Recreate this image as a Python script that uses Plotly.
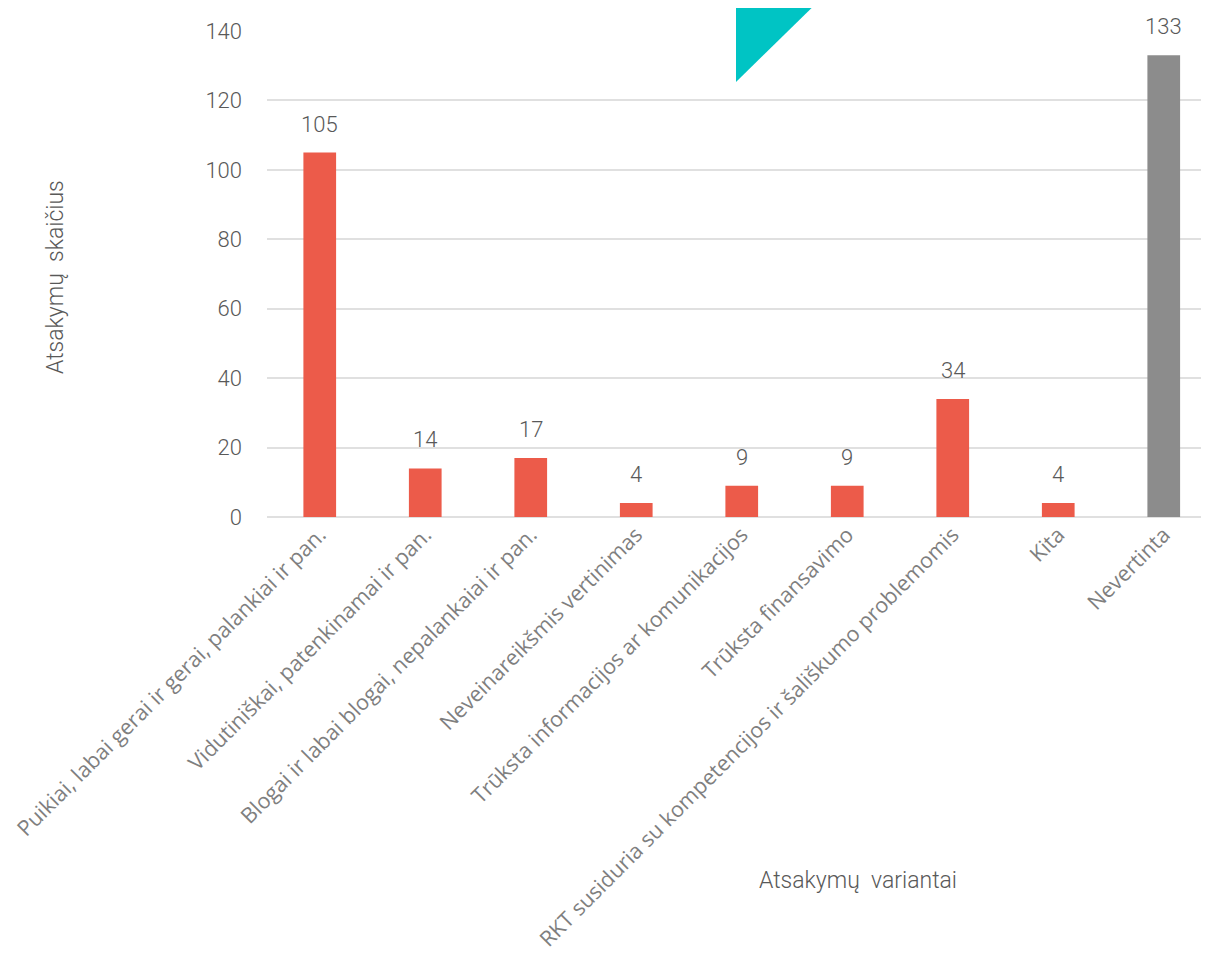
import plotly.graph_objects as go

categories = [
    "Puikiai, labai gerai ir gerai, palankiai ir pan.",
    "Vidutiniškai, patenkinamai ir pan.",
    "Blogai ir labai blogai, nepalankaiai ir pan.",
    "Neveinareikšmis vertinimas",
    "Trūksta informacijos ar komunikacijos",
    "Trūksta finansavimo",
    "RKT susiduria su kompetencijos ir šališkumo problemomis",
    "Kita",
    "Nevertinta",
]
values = [105, 14, 17, 4, 9, 9, 34, 4, 133]
bar_colors = ["#EC5B4A"] * 8 + ["#8C8C8C"]
y_ticks = [0, 20, 40, 60, 80, 100, 120, 140]

OFF = 8  # page body margin
W, H = 1193, 943
L, R, T = 259, 0, 23
ph = 486
B = H - T - ph
pw = W - L - R

def px_x(x):
    return (x - OFF - L) / pw

def px_y(y):
    return (T + ph - (y - OFF)) / ph

num_font = dict(family="Roboto", size=22, color="#595959", weight=300)
title_font = dict(family="Roboto", size=23, color="#595959", weight=300)

fig = go.Figure()
fig.add_trace(go.Bar(
    x=list(range(len(categories))),
    y=values,
    width=0.31,
    marker=dict(color=bar_colors, line=dict(width=0)),
    cliponaxis=False,
))

annotations = [
    dict(x=i, y=v, xref="x", yref="y", text=str(v), showarrow=False,
         xanchor="center", yanchor="bottom", yshift=14, font=num_font)
    for i, v in enumerate(values)
]
annotations += [
    dict(text="Atsakymų  variantai", xref="paper", yref="paper",
         x=px_x(858), y=px_y(880), xanchor="center", yanchor="middle",
         showarrow=False, font=title_font),
    dict(text="Atsakymų  skaičius", xref="paper", yref="paper",
         x=px_x(55), y=px_y(277), xanchor="center", yanchor="middle",
         showarrow=False, textangle=-90, font=title_font),
]

fig.update_layout(
    width=W, height=H,
    margin=dict(l=L, r=R, t=T, b=B, pad=0, autoexpand=False),
    plot_bgcolor="white", paper_bgcolor="white",
    showlegend=False,
    xaxis=dict(
        tickmode="array",
        tickvals=list(range(len(categories))),
        ticktext=categories,
        tickangle=-45,
        automargin=False,
        range=[-0.5, -0.5 + pw / 105.5],
        tickfont=dict(family="Open Sans", size=21.5, color="#7F7F7F"),
        showgrid=False, zeroline=False, showline=False, ticks="",
    ),
    yaxis=dict(
        range=[0, 140],
        tickvals=y_ticks,
        automargin=False,
        tickfont=num_font,
        showgrid=True, gridcolor="#E0E0E0", gridwidth=2,
        zeroline=True, zerolinecolor="#E0E0E0", zerolinewidth=2,
        ticks="", ticklabelstandoff=24,
    ),
    annotations=annotations,
    shapes=[
        dict(type="path", xref="paper", yref="paper",
             path=f"M {px_x(736)},{px_y(-10)} L {px_x(830)},{px_y(-10)} L {px_x(736)},{px_y(82)} Z",
             fillcolor="#00C4C4", line=dict(width=0), layer="above"),
    ],
)

fig.write_html("out.html")
